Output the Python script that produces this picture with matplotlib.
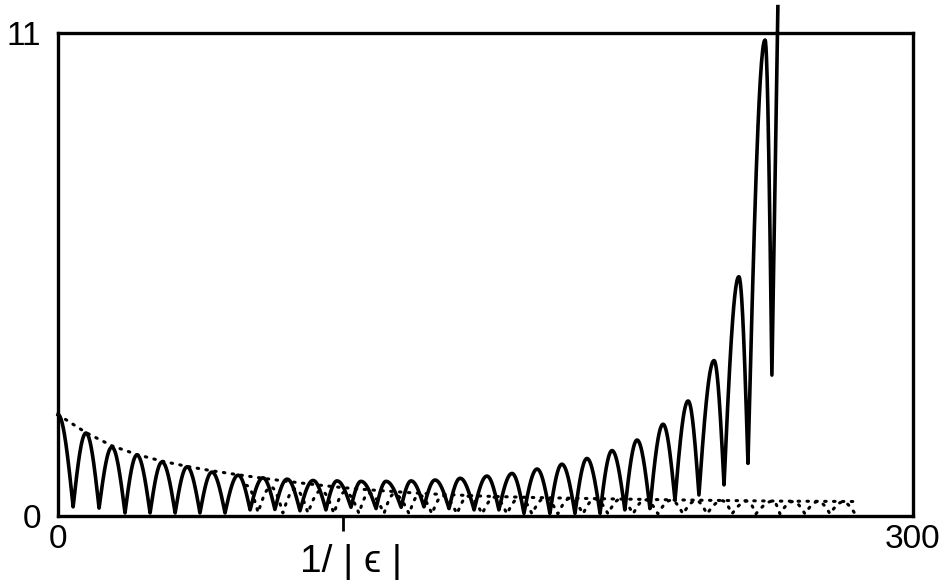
import numpy as np
import matplotlib.pyplot as plt

plt.rcParams['font.family'] = ['Liberation Sans', 'DejaVu Sans']

# solid curve: maxima and minima (x = 1/|eps|)
peak_x = [0.0, 9.8, 18.9, 27.7, 36.5, 45.3, 54.0, 63.2, 71.9, 80.4,
          89.5, 97.9, 106.3, 115.1, 123.9, 132.3, 141.1, 150.5, 159.3, 168.1,
          176.8, 185.6, 194.4, 203.2, 212.3, 221.1, 230.2, 238.9, 248.1]
peak_y = [2.31, 1.89, 1.57, 1.39, 1.23, 1.12, 1.00, 0.93, 0.87, 0.84,
          0.81, 0.80, 0.79, 0.79, 0.80, 0.82, 0.86, 0.91, 0.97, 1.07,
          1.18, 1.31, 1.49, 1.73, 2.09, 2.62, 3.54, 5.45, 10.84]
trough_x = [5.3, 14.4, 23.5, 32.3, 41.1, 49.8, 58.6, 67.4, 76.1, 84.9,
            94.0, 102.8, 111.6, 120.4, 128.4, 137.2, 146.0, 154.7, 163.5, 172.6,
            181.4, 190.2, 198.9, 207.7, 216.5, 224.9, 233.7, 242.1, 250.5]
trough_y = [0.21, 0.18, 0.07, 0.07, 0.07, 0.07, 0.07, 0.14, 0.15, 0.12,
            0.14, 0.20, 0.17, 0.20, 0.21, 0.17, 0.14, 0.14, 0.06, 0.06,
            0.06, 0.06, 0.14, 0.17, 0.36, 0.48, 0.71, 1.20, 3.21]
# last stroke leaves the frame at the top
tail_x = [252.6]
tail_y = [11.6]

# dotted envelope
env_x = [0.0, 9.8, 18.9, 27.7, 36.5, 45.3, 54.0, 63.2, 71.9, 80.4, 89.5,
         97.9, 106.3, 115.1, 123.9, 132.3, 150.5, 168.1, 194.4, 225.3, 253.3, 280.7]
env_y = [2.31, 1.90, 1.60, 1.40, 1.25, 1.13, 1.03, 0.94, 0.86, 0.79, 0.72,
         0.66, 0.61, 0.57, 0.53, 0.50, 0.45, 0.42, 0.39, 0.36, 0.34, 0.33]

# dotted small oscillation near the axis (alternating max / min)
osc_x = [66.0, 70.2, 74.7, 78.9, 83.2, 87.7, 92.3, 96.8, 100.7, 105.6,
         109.1, 114.4, 117.9, 123.2, 126.7, 131.2, 135.1, 140.0, 143.9, 148.8,
         153.3, 157.5, 162.1, 166.3, 170.9, 175.4, 179.6, 184.2, 188.4, 193.0,
         197.2, 201.8, 206.0, 210.5, 215.1, 219.3, 223.9, 227.7, 233.0, 236.5,
         241.8, 244.9, 250.9, 253.3, 257.9, 262.1, 266.7, 270.9, 275.4, 279.7]
osc_y = [0.70, 0.08, 0.66, 0.07, 0.62, 0.07, 0.58, 0.06, 0.55, 0.06,
         0.52, 0.06, 0.50, 0.05, 0.48, 0.05, 0.46, 0.05, 0.45, 0.05,
         0.43, 0.05, 0.42, 0.05, 0.41, 0.05, 0.40, 0.05, 0.39, 0.05,
         0.38, 0.05, 0.37, 0.05, 0.36, 0.05, 0.35, 0.05, 0.35, 0.05,
         0.34, 0.05, 0.34, 0.05, 0.33, 0.05, 0.33, 0.05, 0.32, 0.05]


def arcs(xs, ys, n=30):
    # rounded tops, sharp V bottoms between consecutive extrema
    X, Y = [xs[0]], [ys[0]]
    for x0, y0, x1, y1 in zip(xs[:-1], ys[:-1], xs[1:], ys[1:]):
        t = np.linspace(0, 1, n)[1:]
        if y1 >= y0:
            y = y0 + (y1 - y0) * np.sin(np.pi / 2 * t)
        else:
            y = y1 + (y0 - y1) * np.cos(np.pi / 2 * t)
        X.extend(x0 + (x1 - x0) * t)
        Y.extend(y)
    return np.array(X), np.array(Y)


ext_x = [v for pair in zip(peak_x, trough_x) for v in pair]
ext_y = [v for pair in zip(peak_y, trough_y) for v in pair]
sx, sy = arcs(ext_x, ext_y)
sx = np.append(sx, tail_x)
sy = np.append(sy, tail_y)
ox, oy = arcs(osc_x, osc_y)

fig = plt.figure(figsize=(9.45, 5.88), dpi=100)
ax = fig.add_axes([0.0614, 0.1224, 0.9047, 0.8215])

dots = dict(color='black', lw=2.2, linestyle=(0, (0.5, 2.4)), dash_capstyle='round')
ax.plot(env_x, env_y, **dots)
ax.plot(ox, oy, **dots)
ax.plot(sx, sy, color='black', lw=2.6, clip_on=False, zorder=3)

ax.set_xlim(0, 300)
ax.set_ylim(0, 11)
for s in ax.spines.values():
    s.set_linewidth(2.4)

ax.set_xticks([0, 300], ['0', '300'])
ax.set_xticks([100], minor=True)
ax.set_yticks([0, 11], ['0', '11'])
ax.tick_params(axis='x', which='major', length=0, pad=6, labelsize=24)
ax.tick_params(axis='x', which='minor', length=11, width=2, direction='out')
ax.tick_params(axis='y', which='major', length=0, pad=12, labelsize=24)

ax.text(0.343, -0.095, '1/ | ϵ |', transform=ax.transAxes, ha='center', va='center',
        fontsize=28)

fig.savefig('out.png', dpi=100, facecolor='white')
